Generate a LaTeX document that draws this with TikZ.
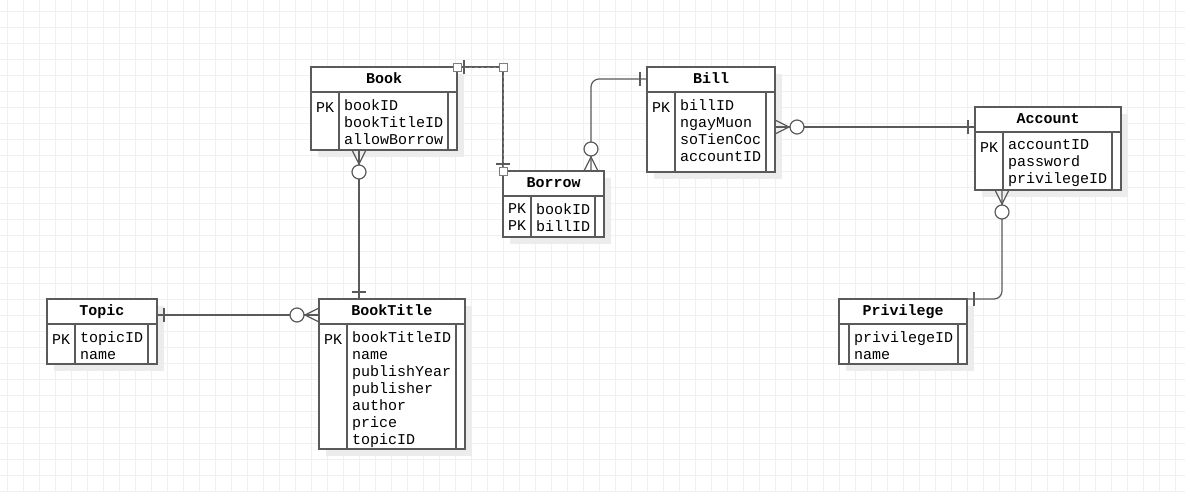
\documentclass[tikz,border=0pt]{standalone}
\usepackage{fontspec}
\setmonofont{Liberation Mono}
\usepackage{tikz}
\usetikzlibrary{calc,positioning,shadows}
\pgfdeclarelayer{background}
\pgfsetlayers{background,main}

\definecolor{linegray}{RGB}{90,90,90}
\definecolor{gridgray}{RGB}{240,240,240}
\definecolor{shadowgray}{RGB}{236,236,236}
\definecolor{handleblue}{RGB}{51,140,255}

\tikzset{
  entity/.style={draw=linegray, fill=white, line width=1.2pt, anchor=north west,
    inner sep=0pt, outer sep=0pt,
    drop shadow={shadow xshift=7pt, shadow yshift=-7pt, fill=shadowgray, opacity=1}},
  rule/.style={draw=linegray, line width=1.2pt},
  rel/.style={draw=linegray, line width=1.2pt},
  selected/.style={draw=handleblue, line width=0.6pt, dash pattern=on 3pt off 3pt},
  handle/.style={draw=handleblue, fill=white, line width=0.8pt, minimum size=8pt, inner sep=0pt},
  title/.style={font=\ttfamily\bfseries\fontsize{15}{17}\selectfont, anchor=base, inner sep=0pt},
  field/.style={font=\ttfamily\fontsize{15}{17}\selectfont, align=left, anchor=north west,
    inner sep=0pt, execute at begin node={\rule{0pt}{13pt}}},
  erone/.pic={\draw[rel] (7,-7) -- (7,7);},
  erzeromany/.pic={\draw[rel] (0,-7) -- (14,0) -- (0,7);
    \draw[rel, fill=white] (22,0) circle[radius=7];}
}

% #1 name, #2 corner, #3 width, #4 height, #5 title, #6 keys, #7 fields, #8 key column
\newcommand{\ertable}[8]{%
  \node[entity, minimum width=#3, minimum height=#4] (#1) at #2 {};
  \draw[rule] ([yshift=-25pt]#1.north west) -- ([yshift=-25pt]#1.north east);
  \draw[rule] ([xshift=#8pt,yshift=-25pt]#1.north west) -- ([xshift=#8pt]#1.south west);
  \draw[rule] ([xshift=-9pt,yshift=-25pt]#1.north east) -- ([xshift=-9pt]#1.south east);
  \node[title] (#1-title) at ([yshift=-16pt]#1.north) {#5};
  \node[field] (#1-keys) at ([xshift=5pt,yshift=-32pt]#1.north west) {#6};
  \node[field] (#1-fields) at ([xshift=#8pt+5pt,yshift=-32pt]#1.north west) {#7};
}

\begin{document}
\begin{tikzpicture}[x=1pt, y=-1pt]
	\useasboundingbox (0,0) rectangle (1185,491);
	\begin{pgfonlayer}{background}
		\fill[white] (0,0) rectangle (1185,491);
		\begin{scope}
			\clip (0,0) rectangle (1185,491);
			\draw[gridgray, line width=1pt, step=16pt, shift={(7,11)}] (-16,-16) grid (1184,496);
		\end{scope}
	\end{pgfonlayer}

	\ertable{book}{(311,67)}{146}{83}{Book}{PK}{bookID\\bookTitleID\\allowBorrow}{28}
	\ertable{borrow}{(503,171)}{101}{66}{Borrow}{PK\\PK}{bookID\\billID}{28}
	\ertable{bill}{(647,67)}{128}{105}{Bill}{PK}{billID\\ngayMuon\\soTienCoc\\accountID}{28}
	\ertable{account}{(975,107)}{146}{83}{Account}{PK}{accountID\\password\\privilegeID}{28}
	\ertable{privilege}{(839,299)}{128}{65}{Privilege}{}{privilegeID\\name}{10}
	\ertable{topic}{(47,299)}{110}{65}{Topic}{PK}{topicID\\name}{28}
	\ertable{booktitle}{(319,299)}{146}{150}{BookTitle}{PK}{bookTitleID\\name\\publishYear\\publisher\\author\\price\\topicID}{28}

	% book -- borrow
	\draw[rel] (book.north east) -| (borrow.north west);
	\draw[selected] (book.north east) -| (borrow.north west);
	\pic at (book.north east) {erone};
	\pic[rotate=90] at (borrow.north west) {erone};

	% borrow -- bill
	\draw[rel, rounded corners=8pt] ($(borrow.north east)+(-13,0)$) coordinate (borrow-out)
		|- ($(bill.north west)+(0,12)$) coordinate (bill-in);
	\pic[rotate=90] at (borrow-out) {erzeromany};
	\pic[rotate=180] at (bill-in) {erone};

	% bill -- account
	\draw[rel] ($(account.north west)+(0,20)$) coordinate (account-in) -- (account-in -| bill.east) coordinate (bill-out);
	\pic at (bill-out) {erzeromany};
	\pic[rotate=180] at (account-in) {erone};

	% account -- privilege
	\draw[rel, rounded corners=8pt] ($(account.south west)+(27,0)$) coordinate (account-out) |- (privilege.north east);
	\pic[rotate=-90] at (account-out) {erzeromany};
	\pic at (privilege.north east) {erone};

	% book -- booktitle
	\draw[rel] ($(book.south west)+(48,0)$) coordinate (book-out) -- (book-out |- booktitle.north) coordinate (booktitle-in);
	\pic[rotate=-90] at (book-out) {erzeromany};
	\pic[rotate=90] at (booktitle-in) {erone};

	% topic -- booktitle
	\draw[rel] ($(topic.north east)+(0,16)$) coordinate (topic-out) -- (topic-out -| booktitle.west) coordinate (booktitle-side);
	\pic at (topic-out) {erone};
	\pic[rotate=180] at (booktitle-side) {erzeromany};

	\node[handle] (grip-a) at (book.north east) {};
	\node[handle] (grip-b) at (book.north east -| borrow.north west) {};
	\node[handle] (grip-c) at (borrow.north west) {};
\end{tikzpicture}
\end{document}
